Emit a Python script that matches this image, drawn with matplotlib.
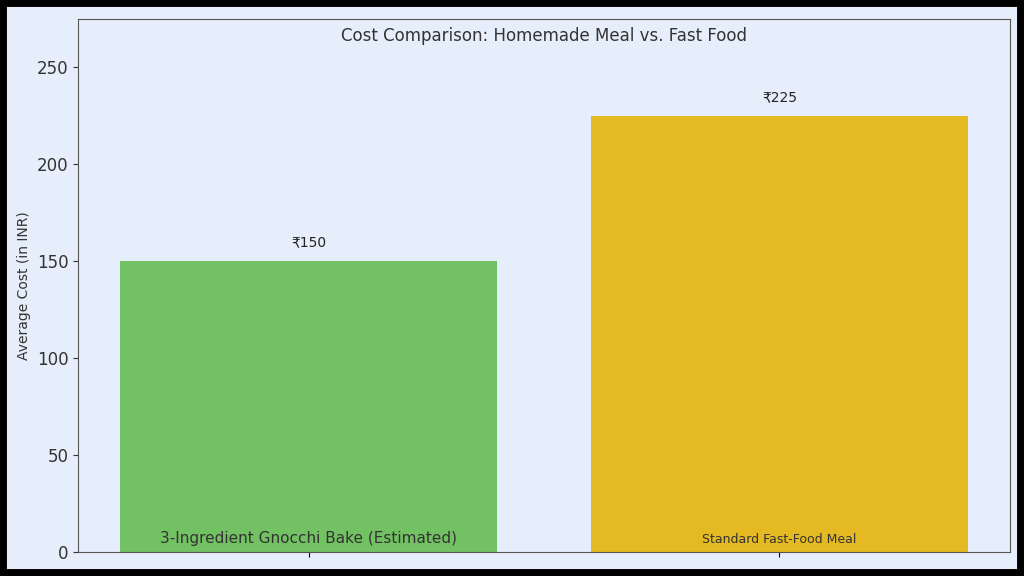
import matplotlib
matplotlib.use("Agg")
import matplotlib.pyplot as plt
from matplotlib.patches import Rectangle

plt.rcParams['font.family'] = ['DejaVu Sans', 'Noto Sans']

categories = ["3-Ingredient Gnocchi Bake (Estimated)", "Standard Fast-Food Meal"]
values = [150, 225]
value_labels = ["₹150", "₹225"]
colors = ["#72c162", "#e4b922"]
yticks = [0, 50, 100, 150, 200, 250]

bg = "#e6eefb"
fig = plt.figure(figsize=(10.24, 5.76), dpi=100, facecolor=bg)
fig.patches.append(Rectangle((0, 0), 1, 1, transform=fig.transFigure, fill=False,
                             edgecolor="black", linewidth=10, zorder=10))
ax = fig.add_axes([78/1024, 1-552/576, (1010-78)/1024, (552-19)/576])
ax.set_facecolor(bg)
x = list(range(len(categories)))
ax.bar(x, values, width=0.8, color=colors)
ax.set_xlim(-0.49, 1.49)
ax.set_ylim(0, 275)
ax.set_yticks(yticks)
ax.tick_params(axis='y', labelsize=12, colors="#333333")
ax.set_xticks(x)
ax.set_xticklabels(["", ""])
ax.set_ylabel("Average Cost (in INR)", fontsize=10, color="#333333")
for xi, v, lab in zip(x, values, value_labels):
    ax.text(xi, v + 6, lab, ha='center', va='bottom', fontsize=10, color="#222222")
ax.text(0, 3, categories[0], ha='center', va='bottom', fontsize=11, color="#333333")
ax.text(1, 3, categories[1], ha='center', va='bottom', fontsize=9, color="#333333")
ax.text(0.5, 0.985, "Cost Comparison: Homemade Meal vs. Fast Food", transform=ax.transAxes,
        ha='center', va='top', fontsize=12, color="#333333")
for s in ax.spines.values():
    s.set_color("#555555")
fig.savefig("out.png", dpi=100, facecolor=bg)
